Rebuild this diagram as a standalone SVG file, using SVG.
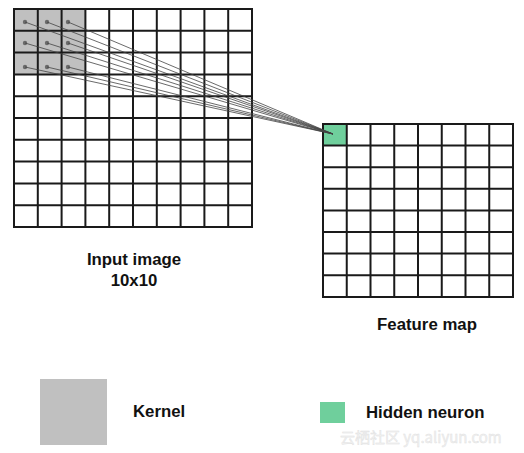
<svg xmlns="http://www.w3.org/2000/svg" width="524" height="453" viewBox="0 0 524 453">
<style>
.grid{fill:none;stroke:#1a1a1a;stroke-width:2}
.lbl{font-family:"Liberation Sans",Arial,sans-serif;font-weight:bold;font-size:16.8px;fill:#111}
.conn{stroke:#444;stroke-width:0.8;fill:none}
.dot{fill:#6a6a6a}
.kern{fill:#c0c0c0}
.hid{fill:#6fcf9c}
</style>
<rect width="524" height="453" fill="#fff"/>
<g id="input-image">
<rect class="kern" x="14" y="9" width="71.4" height="65.4"/>
<g class="dots">
<circle class="dot" cx="25" cy="22" r="2.2"/><circle class="dot" cx="47" cy="22" r="2.2"/><circle class="dot" cx="68" cy="22" r="2.2"/>
<circle class="dot" cx="25" cy="43" r="2.2"/><circle class="dot" cx="47" cy="43" r="2.2"/><circle class="dot" cx="68" cy="43" r="2.2"/>
<circle class="dot" cx="25" cy="67" r="2.2"/><circle class="dot" cx="47" cy="67" r="2.2"/><circle class="dot" cx="68" cy="67" r="2.2"/>
</g>
<path class="grid" d="M14 9H252V227H14Z M37.8 9V227 M61.6 9V227 M85.4 9V227 M109.2 9V227 M133 9V227 M156.8 9V227 M180.6 9V227 M204.4 9V227 M228.2 9V227 M14 30.8H252 M14 52.6H252 M14 74.4H252 M14 96.2H252 M14 118H252 M14 139.8H252 M14 161.6H252 M14 183.4H252 M14 205.2H252"/>
<text class="lbl" x="134" y="265" text-anchor="middle">Input image</text>
<text class="lbl" x="134" y="286" text-anchor="middle">10x10</text>
</g>
<g id="feature-map">
<rect class="hid" x="323" y="124" width="23.75" height="21.6"/>
<path class="grid" d="M323 124H513V297H323Z M346.75 124V297 M370.5 124V297 M394.25 124V297 M418 124V297 M441.75 124V297 M465.5 124V297 M489.25 124V297 M323 145.6H513 M323 167.2H513 M323 188.8H513 M323 210.4H513 M323 232H513 M323 253.6H513 M323 275.2H513"/>
<text class="lbl" x="427" y="330" text-anchor="middle">Feature map</text>
</g>
<g id="connectors">
<path class="conn" d="M25 22L333 134 M47 22L333 134 M68 22L333 134 M25 43L333 134 M47 43L333 134 M68 43L333 134 M25 67L333 134 M47 67L333 134 M68 67L333 134"/>
</g>
<g id="legend-kernel">
<rect class="kern" x="40" y="379" width="67" height="66"/>
<text class="lbl" x="133" y="417">Kernel</text>
</g>
<g id="legend-hidden">
<rect class="hid" x="320" y="402" width="25" height="21"/>
<text class="lbl" x="366" y="418">Hidden neuron</text>
</g>
<text x="340" y="443" font-family="'Noto Sans CJK SC','Liberation Sans',sans-serif" font-size="15" fill="#f2f2f2" stroke="#e0e0e0" stroke-width="0.4">云栖社区 yq.aliyun.com</text>
</svg>
